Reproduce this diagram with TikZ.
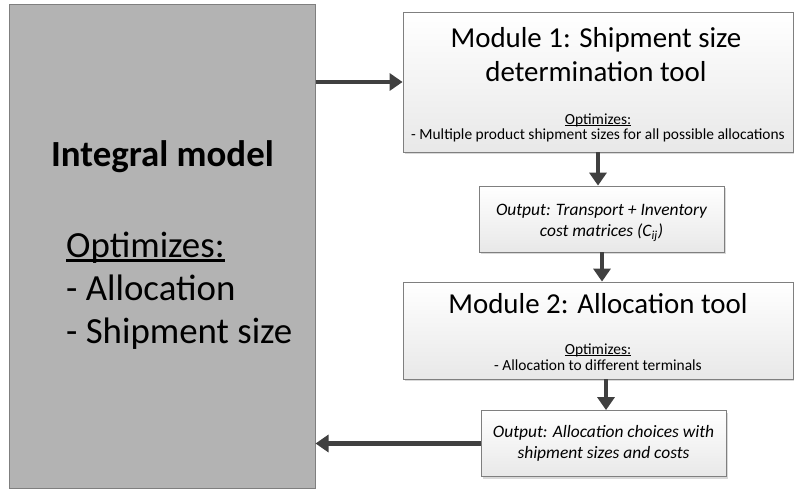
\documentclass[tikz,border=0pt]{standalone}
\usepackage{fontspec}
\setmainfont{Carlito}
\usetikzlibrary{arrows.meta,shadows,calc}
\definecolor{arrowgray}{HTML}{404040}
\definecolor{boxline}{HTML}{7F7F7F}
\definecolor{modelfill}{HTML}{B3B3B3}
% tight underline, closer to the baseline than \underline
\newcommand\optul[1]{\setbox0\hbox{#1}\rlap{\rule[-0.12em]{\wd0}{0.065em}}\box0}
\tikzset{
  modelbox/.style={draw=boxline, line width=1bp, fill=modelfill, rectangle, inner sep=0pt},
  modbox/.style={draw=boxline, line width=0.8bp, rectangle, inner sep=0pt,
    top color=white, bottom color=black!9,
    drop shadow={shadow xshift=2bp, shadow yshift=-2bp, fill=black!25, opacity=0.6}},
  txt/.style={anchor=base, align=center, inner sep=0pt},
  flow/.style={draw=arrowgray, line width=4.5bp, -{Triangle[length=13bp,width=17bp]}},
}
\begin{document}
\begin{tikzpicture}[x=1bp,y=-1bp]
\useasboundingbox (0,0) rectangle (794,489);

% left block: the integral model
\node[modelbox, minimum width=305bp, minimum height=483bp] (int) at (162.5,246.5) {};
\node[font=\fontsize{37}{43}\selectfont\bfseries, txt] (inttitle) at (162.5,167) {Integral model};
\node[font=\fontsize{37}{43}\selectfont, anchor=base west, inner sep=0pt, align=left] (intopt) at (66,343)
  {\optul{Optimizes:}\\- Allocation\\- Shipment size};

% right column: modules and their outputs
\node[modbox, minimum width=390bp, minimum height=140bp] (mod1) at (598,82) {};
\node[font=\fontsize{29}{35}\selectfont, txt] (mod1t) at (596,82)
  {Module 1: Shipment size\\determination tool};
\node[font=\fontsize{15.5}{16}\selectfont, txt] (mod1o) at (598,140)
  {\optul{Optimizes:}\\- Multiple product shipment sizes for all possible allocations};

\node[modbox, minimum width=245bp, minimum height=66bp] (out1) at (601.5,219) {};
\node[font=\fontsize{17.5}{22}\selectfont\itshape, txt] (out1t) at (601.5,237)
  {Output: Transport + Inventory\\cost matrices (C\textsubscript{ij})};

\node[modbox, minimum width=390bp, minimum height=97bp] (mod2) at (598,330.5) {};
\node[font=\fontsize{29}{35}\selectfont, txt] (mod2t) at (598,314)
  {Module 2: Allocation tool};
\node[font=\fontsize{15.5}{16}\selectfont, txt] (mod2o) at (598,370)
  {\optul{Optimizes:}\\- Allocation to different terminals};

\node[modbox, minimum width=245bp, minimum height=66bp] (out2) at (603.5,443.5) {};
\node[font=\fontsize{17.5}{21}\selectfont\itshape, txt] (out2t) at (603.5,458)
  {Output: Allocation choices with\\shipment sizes and costs};

% connectors
\draw[flow] (int.east |- mod1.west) -- (mod1.west);
\draw[flow] (mod1.south -| 598,0) -- (598,0 |- out1.north);
\draw[flow] (out1.south -| 602,0) -- (602,0 |- mod2.north);
\draw[flow] (mod2.south -| 606,0) -- (606,0 |- out2.north);
\draw[flow] (out2.west) -- (int.east |- out2.west);
\end{tikzpicture}
\end{document}
